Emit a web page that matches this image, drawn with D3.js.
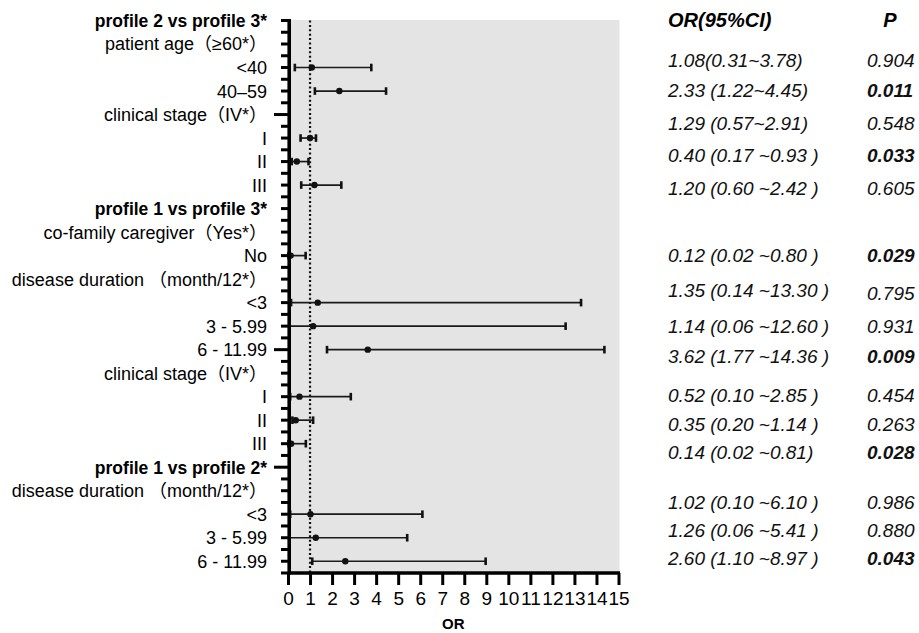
<!DOCTYPE html>
<html>
<head>
<meta charset="utf-8">
<script src="https://cdn.jsdelivr.net/npm/d3@7"></script>
<style>
  html, body { margin: 0; padding: 0; background: #fff; }
  svg { display: block; font-family: "Liberation Sans", Arial, "Noto Sans CJK SC", sans-serif; }
</style>
</head>
<body>
<svg id="chart" width="919" height="633"></svg>
<script>
// ---------------- data ----------------
const rowLabels = [
  "profile 2 vs profile 3*",
  "patient age（≥60*）",
  "<40",
  "40–59",
  "clinical stage（IV*）",
  "I",
  "II",
  "III",
  "profile 1 vs profile 3*",
  "co-family caregiver（Yes*）",
  "No",
  "disease duration （month/12*）",
  "<3",
  "3 - 5.99",
  "6 - 11.99",
  "clinical stage（IV*）",
  "I",
  "II",
  "III",
  "profile 1 vs profile 2*",
  "disease duration （month/12*）",
  "<3",
  "3 - 5.99",
  "6 - 11.99"
];
const headerRows = [0, 8, 19];
const longTickRows = [4, 14, 19];

// rows (index into rowLabels) that carry an estimate
const estRows = [2, 3, 5, 6, 7, 10, 12, 13, 14, 16, 17, 18, 21, 22, 23];
const orEst   = [1.08, 2.33, 1.00, 0.40, 1.20, 0.12, 1.35, 1.14, 3.62, 0.52, 0.35, 0.14, 1.02, 1.26, 2.60];
const ciLow   = [0.31, 1.22, 0.57, 0.17, 0.60, 0.02, 0.14, 0.06, 1.77, 0.10, 0.20, 0.02, 0.10, 0.06, 1.10];
const ciHigh  = [3.78, 4.45, 1.27, 0.93, 2.42, 0.80, 13.30, 12.60, 14.36, 2.85, 1.14, 0.81, 6.10, 5.41, 8.97];

const orText = [
  "1.08(0.31~3.78)", "2.33 (1.22~4.45)", "1.29 (0.57~2.91)", "0.40 (0.17 ~0.93 )",
  "1.20 (0.60 ~2.42 )", "0.12 (0.02 ~0.80 )", "1.35 (0.14 ~13.30 )", "1.14 (0.06 ~12.60 )",
  "3.62 (1.77 ~14.36 )", "0.52 (0.10 ~2.85 )", "0.35 (0.20 ~1.14 )", "0.14 (0.02 ~0.81)",
  "1.02 (0.10 ~6.10 )", "1.26 (0.06 ~5.41 )", "2.60 (1.10 ~8.97 )"
];
const pText = ["0.904", "0.011", "0.548", "0.033", "0.605", "0.029", "0.795", "0.931",
               "0.009", "0.454", "0.263", "0.028", "0.986", "0.880", "0.043"];
const pSig  = [false, true, false, true, false, true, false, false,
               true, false, false, true, false, false, true];

const xTickValues = d3.range(0, 16);
const xTitle = "OR";
const tableHeaders = ["OR(95%CI)", "P"];

// ---------------- layout ----------------
const plot = { left: 288, right: 618.5, top: 20.5, bottom: 573 };
const tableTextY = [60, 90, 123, 155, 188, 255, 290, 326, 356, 395, 424, 452, 502, 530, 558];
const tablePY    = [60, 90, 123, 155, 188, 255, 293, 326, 356, 395, 424, 452, 502, 530, 558];

const svg = d3.select("#chart");

const x = d3.scaleLinear().domain([0, 15]).range([plot.left, plot.right]);
const y = d3.scaleLinear().domain([0, rowLabels.length - 0.5]).range([plot.top, plot.bottom]);

// background
svg.append("rect")
  .attr("x", plot.left).attr("y", plot.top - 0.5)
  .attr("width", plot.right - plot.left + 1).attr("height", plot.bottom - plot.top + 0.5)
  .attr("fill", "#e4e4e4");

// reference line at OR = 1
svg.append("line")
  .attr("x1", x(1)).attr("x2", x(1))
  .attr("y1", plot.top).attr("y2", plot.bottom)
  .attr("stroke", "#111").attr("stroke-width", 2.2)
  .attr("stroke-dasharray", "2,2.4");

// error bars
const g = svg.append("g");
estRows.forEach((r, i) => {
  const cy = y(r);
  g.append("line")
    .attr("x1", x(ciLow[i])).attr("x2", x(ciHigh[i]))
    .attr("y1", cy).attr("y2", cy)
    .attr("stroke", "#1a1a1a").attr("stroke-width", 1.7);
  [ciLow[i], ciHigh[i]].forEach(v => {
    g.append("line")
      .attr("x1", x(v)).attr("x2", x(v))
      .attr("y1", cy - 3.8).attr("y2", cy + 3.8)
      .attr("stroke", "#111").attr("stroke-width", 2.6);
  });
  g.append("circle")
    .attr("cx", x(orEst[i])).attr("cy", cy).attr("r", 3.2)
    .attr("fill", "#111");
});

// y axis (ticks at every half row)
const yTicks = d3.range(0, rowLabels.length * 2).map(k => k / 2);
const yAxis = svg.append("g");
yTicks.forEach(t => {
  const isLong = longTickRows.includes(t);
  yAxis.append("line")
    .attr("x1", plot.left + 1.5).attr("x2", isLong ? 274 : 281)
    .attr("y1", y(t)).attr("y2", y(t))
    .attr("stroke", "#000").attr("stroke-width", 3);
});
yAxis.append("line")
  .attr("x1", plot.left + 1.2).attr("x2", plot.left + 1.2)
  .attr("y1", plot.top - 1.5).attr("y2", plot.bottom + 1.5)
  .attr("stroke", "#000").attr("stroke-width", 3.6);

// x axis via d3.axisBottom
const xAxis = svg.append("g")
  .attr("transform", `translate(0,${plot.bottom})`)
  .call(d3.axisBottom(x).tickValues(xTickValues).tickSize(12).tickPadding(6).tickFormat(d3.format("d")));
xAxis.select(".domain")
  .attr("stroke", "#000").attr("stroke-width", 3.6)
  .attr("d", `M${plot.left},0H${plot.right + 1.5}`);
xAxis.selectAll(".tick line").attr("stroke", "#000").attr("stroke-width", 3);
xAxis.selectAll(".tick text")
  .attr("fill", "#000")
  .style("font-size", "19px")
  .style("font-family", '"Liberation Sans", Arial, sans-serif')
  .attr("dy", "0.72em");

svg.append("text")
  .attr("x", (plot.left + plot.right) / 2).attr("y", 629)
  .attr("text-anchor", "middle")
  .style("font-size", "15px").style("font-weight", "bold")
  .attr("fill", "#000")
  .text(xTitle);

// row labels
svg.append("g").selectAll("text")
  .data(rowLabels)
  .join("text")
  .attr("x", 267)
  .attr("y", (d, i) => y(i))
  .attr("dy", "0.36em")
  .attr("text-anchor", "end")
  .attr("fill", "#000")
  .style("font-size", (d, i) => headerRows.includes(i) ? "17.5px" : "18px")
  .style("font-weight", (d, i) => headerRows.includes(i) ? "bold" : "normal")
  .text(d => d);

// table headers
svg.append("text")
  .attr("x", 668).attr("y", 20).attr("dy", "0.36em")
  .style("font-size", "20px").style("font-weight", "bold").style("font-style", "italic")
  .attr("fill", "#000")
  .text(tableHeaders[0]);
svg.append("text")
  .attr("x", 890).attr("y", 20).attr("dy", "0.36em")
  .attr("text-anchor", "middle")
  .style("font-size", "20px").style("font-weight", "bold").style("font-style", "italic")
  .attr("fill", "#000")
  .text(tableHeaders[1]);

// table rows
svg.append("g").selectAll("text")
  .data(orText)
  .join("text")
  .attr("x", 668)
  .attr("y", (d, i) => tableTextY[i])
  .attr("dy", "0.36em")
  .style("font-size", "19px").style("font-style", "italic")
  .attr("fill", "#111")
  .text(d => d);

svg.append("g").selectAll("text")
  .data(pText)
  .join("text")
  .attr("x", 867)
  .attr("y", (d, i) => tablePY[i])
  .attr("dy", "0.36em")
  .style("font-size", "19px").style("font-style", "italic")
  .style("font-weight", (d, i) => pSig[i] ? "bold" : "normal")
  .attr("fill", "#111")
  .text(d => d);
</script>
</body>
</html>
